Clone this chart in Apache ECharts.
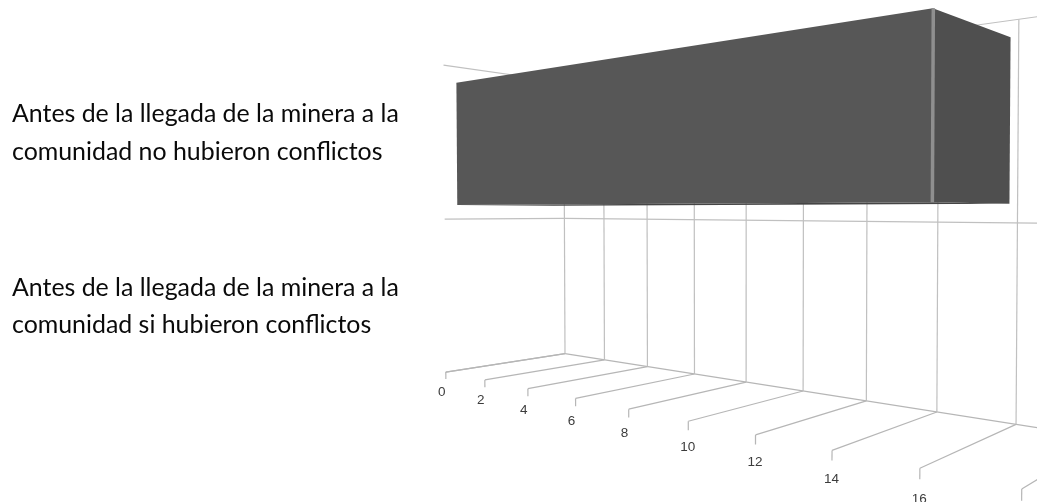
<!DOCTYPE html>
<html>
<head>
<meta charset="utf-8">
<script src="https://cdn.jsdelivr.net/npm/echarts@6/dist/echarts.min.js"></script>
<style>
html, body { margin: 0; padding: 0; background: #fff; }
#chart { width: 1037px; height: 502px; }
</style>
</head>
<body>
<div id="chart"></div>
<script>
var categories = [
  'Antes de la llegada de la minera a la\ncomunidad no hubieron conflictos',
  'Antes de la llegada de la minera a la\ncomunidad si hubieron conflictos'
];
var barValues = [16, 0];
var tickValues = [0, 2, 4, 6, 8, 10, 12, 14, 16, 18];
var tickLabels = ['0', '2', '4', '6', '8', '10', '12', '14', '16', ''];
var wallLevels = [0, 1, 2];

var gridColor = '#c0c0c0';
var floorColor = '#b6b6b6';

// perspective camera, fitted on the vanishing points of the picture
// v = axis value, h = height in category bands, d = depth (0 back wall, 1 front)
function project(v, h, d) {
  var w = 1 - 0.02056 * v - 0.0034 * h - 0.1153 * d;
  return [
    (565 + 7.30 * v - 2.52 * h - 170.6 * d) / w,
    (353.7 - 4.307 * v - 136 * h - 24.56 * d) / w
  ];
}

function line(a, b, color, width) {
  return {
    type: 'line',
    shape: { x1: a[0], y1: a[1], x2: b[0], y2: b[1] },
    style: { stroke: color || gridColor, lineWidth: width || 1.2 }
  };
}

function poly(points, color) {
  return { type: 'polygon', shape: { points: points }, style: { fill: color } };
}

// back wall and left side rails
function renderWalls(params, api) {
  var h = api.value(2);
  var color = h === 0 ? floorColor : gridColor;
  return {
    type: 'group',
    children: [
      line(project(0, h, 0), project(20, h, 0), color),
      line(project(0, h, 0), project(0, h, 1), color)
    ]
  };
}

// one gridline per tick: up the wall, across the floor, small stub and label
function renderTicks(params, api) {
  var v = api.value(0);
  var top = wallLevels[wallLevels.length - 1];
  var labelPos = project(v, -0.13, 1);
  return {
    type: 'group',
    children: [
      line(project(v, 0, 0), project(v, top, 0)),
      line(project(v, 0, 0), project(v, 0, 1), floorColor),
      line(project(v, 0, 1), project(v, -0.045, 1), floorColor),
      {
        type: 'text',
        style: {
          x: labelPos[0] - 8,
          y: labelPos[1],
          text: tickLabels[params.dataIndex],
          font: '13.5px "Liberation Sans", Arial, sans-serif',
          fill: '#3c3c3c',
          align: 'left',
          verticalAlign: 'middle'
        }
      }
    ]
  };
}

function renderBar(params, api) {
  var v = api.value(0);
  if (!v) return null;
  var band = categories.length - 1 - api.value(1);
  var low = band + 0.093, high = band + 0.897;
  var front = 0.905, back = 0.1;
  return {
    type: 'group',
    children: [
      poly([project(0, low, front), project(v, low, front), project(v, low, back), project(0, low, back)], '#454545'),
      poly([project(v, low, front), project(v, high, front), project(v, high, back), project(v, low, back)], '#4f4f4f'),
      poly([project(0, low, front), project(0, high, front), project(v, high, front), project(v, low, front)], '#575757'),
      line(project(v, low, front - 0.004), project(v, high, front - 0.004), '#8f8f8f', 3.5)
    ]
  };
}

var myChart = echarts.init(document.getElementById('chart'));
myChart.setOption({
  animation: false,
  backgroundColor: '#fff',
  grid: { left: 411, right: 20, top: 46.2, bottom: 109 },
  xAxis: { type: 'value', min: 0, max: 18, interval: 2, show: false },
  yAxis: {
    type: 'category',
    inverse: true,
    data: categories,
    axisLine: { show: false },
    axisTick: { show: false },
    splitLine: { show: false },
    axisLabel: {
      margin: 399,
      align: 'left',
      fontFamily: 'Lato',
      fontSize: 24.9,
      lineHeight: 37.5,
      color: '#0a0a0a'
    }
  },
  series: [
    {
      type: 'custom',
      name: 'paredes',
      silent: true,
      renderItem: renderWalls,
      encode: { x: 0, y: 1 },
      data: wallLevels.map(function (h) { return [0, 0, h]; })
    },
    {
      type: 'custom',
      name: 'marcas',
      silent: true,
      renderItem: renderTicks,
      encode: { x: 0, y: 1 },
      data: tickValues.map(function (t) { return [t, 0]; })
    },
    {
      type: 'custom',
      name: 'barras',
      silent: true,
      renderItem: renderBar,
      encode: { x: 0, y: 1 },
      data: barValues.map(function (b, i) { return [b, i]; })
    }
  ]
});
</script>
</body>
</html>
